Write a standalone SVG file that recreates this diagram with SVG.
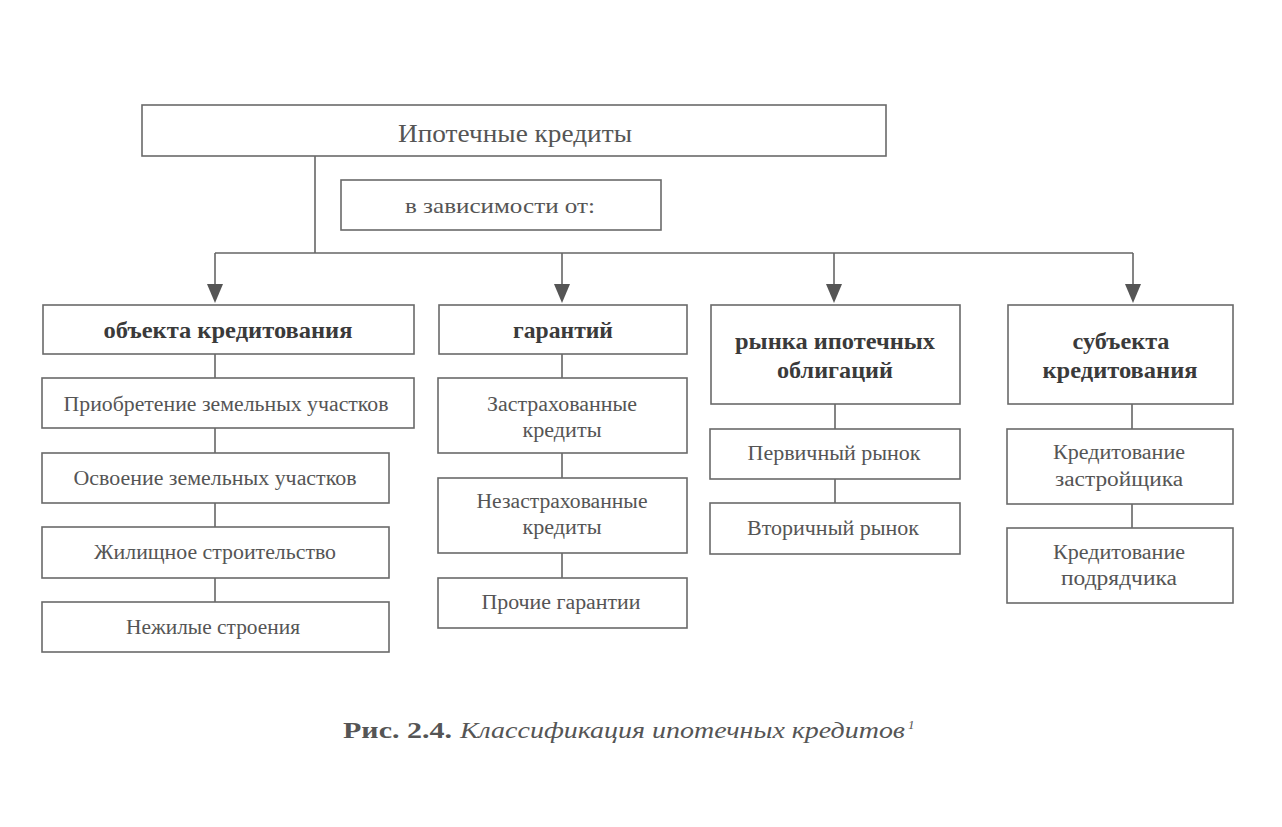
<svg xmlns="http://www.w3.org/2000/svg" width="1282" height="827" viewBox="0 0 1282 827">
<style>
.b{fill:#fff;stroke:#6a6a6a;stroke-width:1.6}
.t{font-family:"Liberation Serif","Times New Roman",serif;fill:#555;text-anchor:middle;font-size:20px}
.h{font-weight:bold;font-size:23px;fill:#3a3a3a}
.c{fill:none;stroke:#666;stroke-width:1.6}
.a{fill:#555}
</style>
<rect width="1282" height="827" fill="#fff"/>
<g id="connectors">
<path class="c" d="M315,156 V253 M215,253 H1133"/>
<path class="c" d="M215,253 V290 M562,253 V290 M834,253 V290 M1133,253 V290"/>
<polygon class="a" points="207,284 223,284 215,303"/>
<polygon class="a" points="554,284 570,284 562,303"/>
<polygon class="a" points="826,284 842,284 834,303"/>
<polygon class="a" points="1125,284 1141,284 1133,303"/>
<path class="c" d="M215,354 V378 M215,428 V453 M215,503 V527 M215,578 V602"/>
<path class="c" d="M562,354 V378 M562,453 V478 M562,553 V578"/>
<path class="c" d="M835,404 V429 M835,479 V503"/>
<path class="c" d="M1132,404 V429 M1132,504 V528"/>
</g>
<g id="root"><rect class="b" x="142" y="105" width="744" height="51"/><text class="t" x="515" y="142" style="font-size:25px" textLength="234" lengthAdjust="spacingAndGlyphs">Ипотечные кредиты</text></g>
<g id="depends"><rect class="b" x="341" y="180" width="320" height="50"/><text class="t" x="500" y="213" style="font-size:22px" textLength="190" lengthAdjust="spacingAndGlyphs">в зависимости от:</text></g>
<g id="n1"><rect class="b" x="43" y="305" width="371" height="49"/><text class="t h" x="228" y="338" textLength="249" lengthAdjust="spacingAndGlyphs">объекта кредитования</text></g>
<g id="n2"><rect class="b" x="439" y="305" width="248" height="49"/><text class="t h" x="563" y="338" textLength="100" lengthAdjust="spacingAndGlyphs">гарантий</text></g>
<g id="n3"><rect class="b" x="711" y="305" width="249" height="99"/><text class="t h" x="835" y="349" textLength="200" lengthAdjust="spacingAndGlyphs">рынка ипотечных</text><text class="t h" x="835" y="378" textLength="116" lengthAdjust="spacingAndGlyphs">облигаций</text></g>
<g id="n4"><rect class="b" x="1008" y="305" width="225" height="99"/><text class="t h" x="1121" y="349" textLength="97" lengthAdjust="spacingAndGlyphs">субъекта</text><text class="t h" x="1120" y="378" textLength="155" lengthAdjust="spacingAndGlyphs">кредитования</text></g>
<g id="n1a"><rect class="b" x="42" y="378" width="372" height="50"/><text class="t" x="226" y="411" textLength="325" lengthAdjust="spacingAndGlyphs">Приобретение земельных участков</text></g>
<g id="n1b"><rect class="b" x="42" y="453" width="347" height="50"/><text class="t" x="215" y="485" textLength="283" lengthAdjust="spacingAndGlyphs">Освоение земельных участков</text></g>
<g id="n1c"><rect class="b" x="42" y="527" width="347" height="51"/><text class="t" x="215" y="559" textLength="242" lengthAdjust="spacingAndGlyphs">Жилищное строительство</text></g>
<g id="n1d"><rect class="b" x="42" y="602" width="347" height="50"/><text class="t" x="213" y="634" textLength="174" lengthAdjust="spacingAndGlyphs">Нежилые строения</text></g>
<g id="n2a"><rect class="b" x="438" y="378" width="249" height="75"/><text class="t" x="562" y="411" textLength="150" lengthAdjust="spacingAndGlyphs">Застрахованные</text><text class="t" x="562" y="437" textLength="79" lengthAdjust="spacingAndGlyphs">кредиты</text></g>
<g id="n2b"><rect class="b" x="438" y="478" width="249" height="75"/><text class="t" x="562" y="508" textLength="171" lengthAdjust="spacingAndGlyphs">Незастрахованные</text><text class="t" x="562" y="534" textLength="79" lengthAdjust="spacingAndGlyphs">кредиты</text></g>
<g id="n2c"><rect class="b" x="438" y="578" width="249" height="50"/><text class="t" x="561" y="609" textLength="159" lengthAdjust="spacingAndGlyphs">Прочие гарантии</text></g>
<g id="n3a"><rect class="b" x="710" y="429" width="250" height="50"/><text class="t" x="834" y="460" textLength="173" lengthAdjust="spacingAndGlyphs">Первичный рынок</text></g>
<g id="n3b"><rect class="b" x="710" y="503" width="250" height="51"/><text class="t" x="833" y="535" textLength="172" lengthAdjust="spacingAndGlyphs">Вторичный рынок</text></g>
<g id="n4a"><rect class="b" x="1007" y="429" width="226" height="75"/><text class="t" x="1119" y="459" textLength="132" lengthAdjust="spacingAndGlyphs">Кредитование</text><text class="t" x="1119" y="486" textLength="128" lengthAdjust="spacingAndGlyphs">застройщика</text></g>
<g id="n4b"><rect class="b" x="1007" y="528" width="226" height="75"/><text class="t" x="1119" y="559" textLength="132" lengthAdjust="spacingAndGlyphs">Кредитование</text><text class="t" x="1119" y="585" textLength="116" lengthAdjust="spacingAndGlyphs">подрядчика</text></g>
<g id="caption" style="font-family:'Liberation Serif','Times New Roman',serif;font-size:23px;fill:#555">
<text x="343" y="738" font-weight="bold" textLength="109" lengthAdjust="spacingAndGlyphs">Рис. 2.4.</text>
<text x="460" y="738" font-style="italic" textLength="445" lengthAdjust="spacingAndGlyphs">Классификация ипотечных кредитов</text>
<text x="908" y="729" font-style="italic" font-size="13">1</text>
</g>
</svg>
